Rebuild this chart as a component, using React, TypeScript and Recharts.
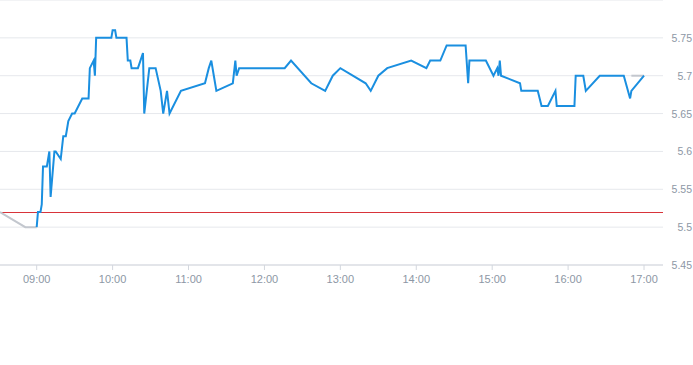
import React from "react";
import { LineChart, Line, XAxis, YAxis, CartesianGrid, ReferenceLine } from "recharts";

const blueTimes = [
  "09:00", "09:01", "09:03", "09:04", "09:05", "09:08", "09:10", "09:11", "09:13", "09:14",
  "09:15", "09:19", "09:21", "09:23", "09:24", "09:25", "09:28", "09:30", "09:36", "09:41",
  "09:42", "09:45", "09:46", "09:47", "09:59", "10:00", "10:02", "10:03", "10:11", "10:12",
  "10:14", "10:15", "10:20", "10:24", "10:25", "10:29", "10:34", "10:38", "10:40", "10:43",
  "10:45", "10:54", "11:13", "11:16", "11:18", "11:20", "11:22", "11:35", "11:37", "11:38",
  "11:40", "12:16", "12:21", "12:37", "12:48", "12:54", "13:00", "13:20", "13:24", "13:30",
  "13:37", "13:56", "14:08", "14:11", "14:19", "14:24", "14:39", "14:41", "14:42", "14:55",
  "15:01", "15:04", "15:05", "15:06", "15:07", "15:22", "15:23", "15:36", "15:39", "15:44",
  "15:50", "15:51", "16:05", "16:06", "16:12", "16:14", "16:25", "16:44", "16:49", "16:50",
  "17:00",
];
const blueValues = [
  5.5, 5.52, 5.52, 5.53, 5.58, 5.58, 5.6, 5.54, 5.58, 5.6,
  5.6, 5.59, 5.62, 5.62, 5.63, 5.64, 5.65, 5.65, 5.67, 5.67,
  5.71, 5.72, 5.7, 5.75, 5.75, 5.76, 5.76, 5.75, 5.75, 5.72,
  5.72, 5.71, 5.71, 5.73, 5.65, 5.71, 5.71, 5.68, 5.65, 5.68,
  5.65, 5.68, 5.69, 5.71, 5.72, 5.7, 5.68, 5.69, 5.72, 5.7,
  5.71, 5.71, 5.72, 5.69, 5.68, 5.7, 5.71, 5.69, 5.68, 5.7,
  5.71, 5.72, 5.71, 5.72, 5.72, 5.74, 5.74, 5.69, 5.72, 5.72,
  5.7, 5.71, 5.7, 5.72, 5.7, 5.69, 5.68, 5.68, 5.66, 5.66,
  5.68, 5.66, 5.66, 5.7, 5.7, 5.68, 5.7, 5.7, 5.67, 5.68,
  5.7,
];

const preTimes = ["08:31", "08:51", "09:00"];
const preValues = [5.52, 5.5, 5.5];
const postTimes = ["16:50", "17:00"];
const postValues = [5.7, 5.7];

const referencePrice = 5.52;
const xTickLabels = ["09:00", "10:00", "11:00", "12:00", "13:00", "14:00", "15:00", "16:00", "17:00"];
const yTickValues = [5.45, 5.5, 5.55, 5.6, 5.65, 5.7, 5.75];
const xDomainLabels = ["08:31", "17:15"];
const yDomain = [5.45, 5.8];

const toMin = (s: string) => {
  const [h, m] = s.split(":").map(Number);
  return h * 60 + m;
};
const fmt = (v: number) => {
  const h = Math.floor(v / 60);
  const m = Math.round(v % 60);
  return `${String(h).padStart(2, "0")}:${String(m).padStart(2, "0")}`;
};
const build = (ts: string[], vs: number[]) => ts.map((t, i) => ({ t: toMin(t), v: vs[i] }));

const blueData = build(blueTimes, blueValues);
const preData = build(preTimes, preValues);
const postData = build(postTimes, postValues);

const FONT = "'Liberation Sans', Arial, Helvetica, sans-serif";
const LABEL = "#8d97a5";

const YTick = (props: any) => {
  const { y, payload } = props;
  return (
    <text x={692} y={y} dy={4} textAnchor="end" fill={LABEL} fontSize={10.5} fontFamily={FONT}>
      {String(payload.value)}
    </text>
  );
};

export default function App() {
  return (
    <div style={{ position: "absolute", left: 0, top: 0, background: "#fff" }}>
      <LineChart width={693} height={365} margin={{ top: 0, right: 0, bottom: 70, left: 0 }}>
        <CartesianGrid vertical={false} stroke="#e6e8ec" />
        <XAxis
          dataKey="t"
          type="number"
          domain={[toMin(xDomainLabels[0]), toMin(xDomainLabels[1])]}
          ticks={xTickLabels.map(toMin)}
          tickFormatter={fmt}
          height={30}
          stroke="#d3d7de"
          tickSize={5}
          tickMargin={5}
          tick={{ fill: LABEL, fontSize: 11, fontFamily: FONT }}
          allowDataOverflow
        />
        <YAxis
          orientation="right"
          type="number"
          domain={yDomain}
          ticks={yTickValues}
          width={30}
          axisLine={false}
          tickLine={false}
          tick={<YTick />}
          allowDataOverflow
        />
        <ReferenceLine y={referencePrice} stroke="#d8343a" strokeWidth={1} shapeRendering="crispEdges" />
        <Line data={preData} dataKey="v" type="linear" stroke="#c3c7ce" strokeWidth={2} dot={false} activeDot={false} isAnimationActive={false} />
        <Line data={postData} dataKey="v" type="linear" stroke="#c3c7ce" strokeWidth={2} dot={false} activeDot={false} isAnimationActive={false} />
        <Line data={blueData} dataKey="v" type="linear" stroke="#1a8fe0" strokeWidth={2} dot={false} activeDot={false} isAnimationActive={false} />
      </LineChart>
    </div>
  );
}
